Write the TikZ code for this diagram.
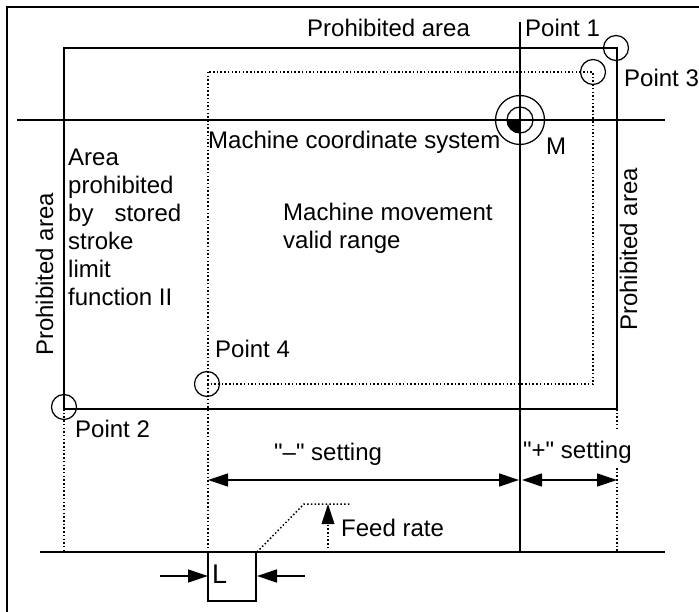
\documentclass[tikz,border=0pt]{standalone}
\usepackage{fontspec}
\setmainfont{Liberation Sans}
\newfontfamily\plainfont{Liberation Sans}
\usetikzlibrary{arrows.meta}
\tikzset{
  solidline/.style={line width=1.45pt},
  dotline/.style={line width=1.5pt,dash pattern=on 1.5pt off 2.2pt},
  marker/.style={line width=1.25pt},
  dimarrow/.style={line width=1.3pt,{Triangle[length=20pt,width=13pt]}-{Triangle[length=20pt,width=13pt]}},
  endarrow/.style={line width=1.3pt,-{Triangle[length=20pt,width=13pt]}},
  label/.style={font=\fontsize{24}{28}\selectfont,inner sep=0pt,align=left}
}
\newcommand{\dq}{{\plainfont"}}
\begin{document}
\begin{tikzpicture}[x=1pt,y=-1pt]
	\useasboundingbox (0,0) rectangle (699,612);
	% frame
	\draw[solidline] (7,612) -- (7,7) -- (699,7);
	% areas
	\draw[solidline] (64,48) rectangle (617,409);
	\draw[dotline] (208,72) rectangle (593,384);
	% axes
	\draw[solidline] (520,22) -- (520,552);
	\draw[solidline] (17,120) -- (665,120);
	\draw[solidline] (40,552) -- (665,552);
	% machine zero
	\fill (520,120) -- (507,120) arc (180:90:13) -- cycle;
	\draw[marker] (520,120) circle (13);
	\draw[marker] (520,120) circle (24.5);
	% points
	\draw[marker] (616,48) circle (12.5);
	\draw[marker] (593,72) circle (12.5);
	\draw[marker] (207,384) circle (12.5);
	\draw[marker] (64,407) circle (12.5);
	% projections
	\draw[dotline] (64,409) -- (64,552);
	\draw[dotline] (208,384) -- (208,552);
	\draw[dotline] (617,409) -- (617,431);
	\draw[dotline] (617,468) -- (617,552);
	% settings
	\draw[dimarrow] (208,480) -- (519,480);
	\draw[dimarrow] (522,480) -- (617,480);
	% feed rate
	\draw[dotline] (257,552) -- (304,504) -- (351,504);
	\draw[dotline] (328,552) -- (328,524);
	\fill (328,504) -- (334.5,524) -- (321.5,524) -- cycle;
	% L
	\draw[solidline] (208,552) rectangle (256,601);
	\draw[endarrow] (160,576) -- (208,576);
	\draw[endarrow] (305,576) -- (257,576);
	% texts
	\node[label,anchor=base west] (prohtop) at (307,37) {Prohibited area};
	\node[label,anchor=base west] (pt1) at (525,37) {Point 1};
	\node[label,anchor=base west] (pt3) at (624,87) {Point 3};
	\node[label,anchor=base west] (pt4) at (215,358) {Point 4};
	\node[label,anchor=base west] (pt2) at (75,437) {Point 2};
	\node[label,anchor=base west] (mcs) at (208,149) {Machine coordinate system};
	\node[label,anchor=base west] (mzero) at (546,155) {M};
	\node[label,anchor=north west] (stored) at (68,149) {Area\\prohibited\\by\hspace{21pt}stored\\stroke\\limit\\function II};
	\node[label,anchor=north west] (valid) at (283,203) {Machine movement\\valid range};
	\node[label,rotate=90,anchor=base west] (prohleft) at (53,356) {Prohibited area};
	\node[label,rotate=90,anchor=base west] (prohright) at (637,331) {Prohibited area};
	\node[label,anchor=base west] (minus) at (274,460) {\dq--\dq{} setting};
	\node[label,anchor=base west] (plus) at (523,458) {\dq+\dq{} setting};
	\node[label,anchor=base west] (feed) at (341,536) {Feed rate};
	\node[label,anchor=base west,font=\fontsize{27}{28}\selectfont] (ell) at (212,583) {L};
\end{tikzpicture}
\end{document}
